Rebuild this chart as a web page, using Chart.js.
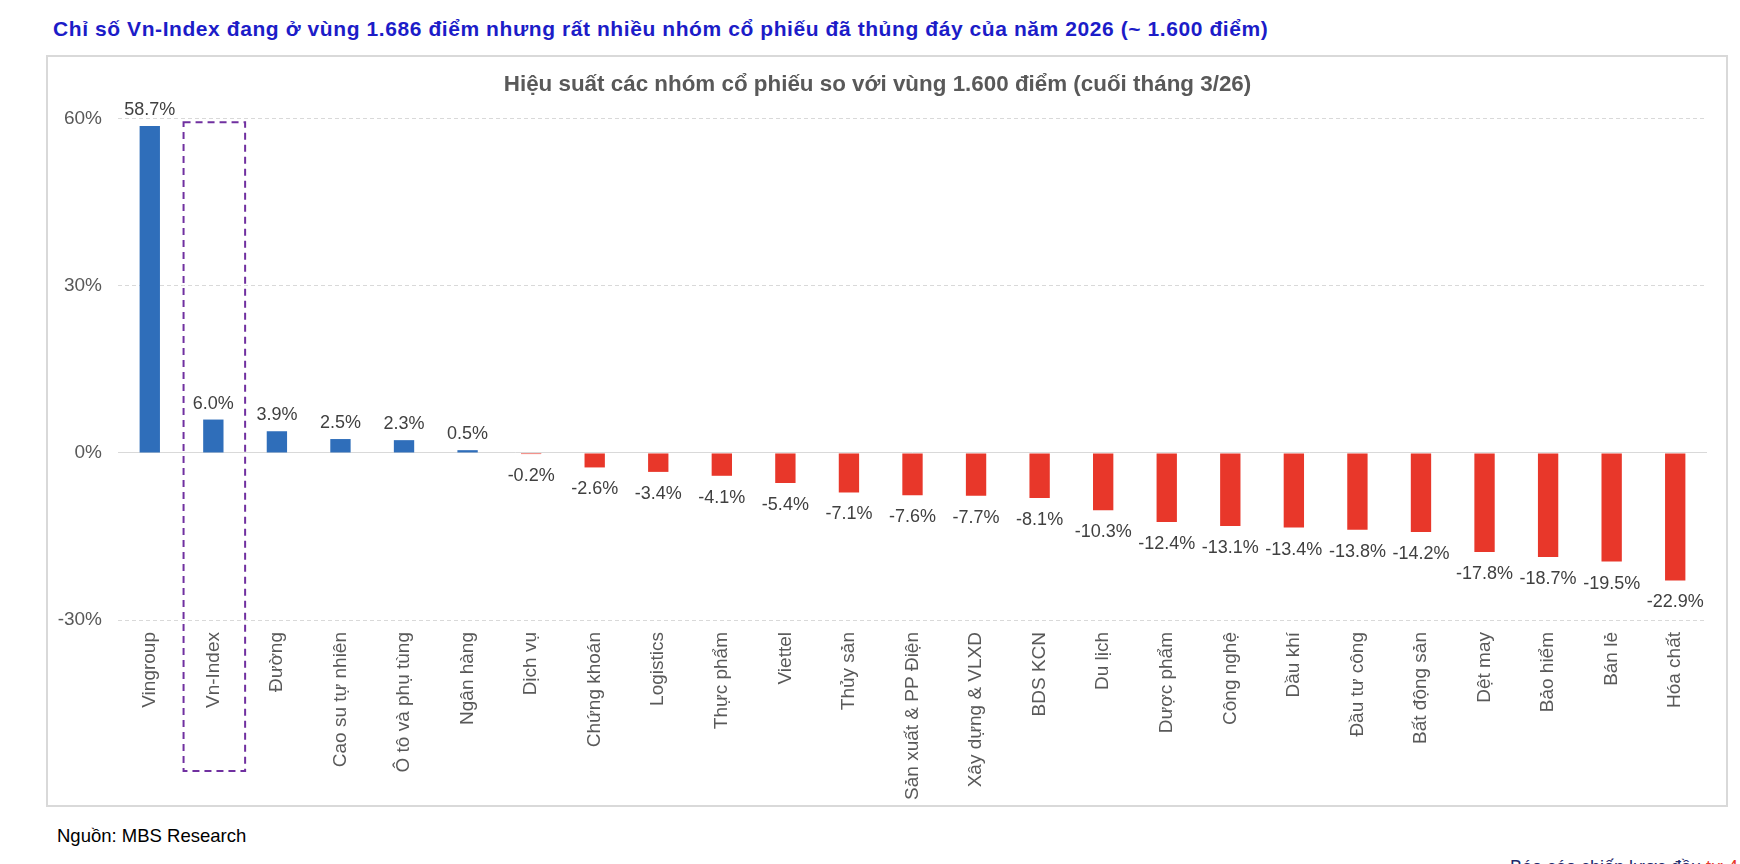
<!DOCTYPE html>
<html lang="vi">
<head>
<meta charset="utf-8">
<title>Hiệu suất các nhóm cổ phiếu</title>
<script src="https://cdn.jsdelivr.net/npm/chart.js@4.4.1/dist/chart.umd.min.js"></script>
<style>
  html, body { margin: 0; padding: 0; background: #fff; }
  body { width: 1740px; height: 864px; position: relative; overflow: hidden;
         font-family: "Liberation Sans", Arial, sans-serif; }
  .headline { position: absolute; left: 53px; top: 18px; font-size: 21px; line-height: 21px;
              letter-spacing: 0.58px; font-weight: bold; color: #1c1cc8; white-space: nowrap; }
  .frame { position: absolute; left: 46px; top: 55px; width: 1682px; height: 752px;
           box-sizing: border-box; border: 2px solid #d9d9d9; }
  .holder { position: absolute; left: 48px; top: 57px; width: 1678px; height: 748px; }
  .source { position: absolute; left: 57px; top: 827px; font-size: 18.5px; line-height: 18px; color: #000; }
  .footer { position: absolute; left: 1510px; top: 858px; font-size: 18px; line-height: 18px;
            color: #1f2a6b; white-space: nowrap; }
  .footer span { color: #e8372a; }
</style>
</head>
<body>
<div class="headline">Chỉ số Vn-Index đang ở vùng 1.686 điểm nhưng rất nhiều nhóm cổ phiếu đã thủng đáy của năm 2026 (~ 1.600 điểm)</div>
<div class="frame"></div>
<div class="holder"><canvas id="c"></canvas></div>
<div class="source">Nguồn: MBS Research</div>
<div class="footer">Báo cáo chiến lược đầu <span>tư 4/2026</span></div>
<script>
'use strict';
// values (% vs the 1.600-point zone, end of March 2026)
var categories = ['Vingroup', 'Vn-Index', 'Đường', 'Cao su tự nhiên', 'Ô tô và phụ tùng', 'Ngân hàng',
  'Dịch vụ', 'Chứng khoán', 'Logistics', 'Thực phẩm', 'Viettel', 'Thủy sản', 'Sản xuất & PP Điện',
  'Xây dựng & VLXD', 'BDS KCN', 'Du lịch', 'Dược phẩm', 'Công nghệ', 'Dầu khí', 'Đầu tư công',
  'Bất động sản', 'Dệt may', 'Bảo hiểm', 'Bán lẻ', 'Hóa chất'];
var performance = [58.7, 6.0, 3.9, 2.5, 2.3, 0.5, -0.2, -2.6, -3.4, -4.1, -5.4, -7.1, -7.6,
  -7.7, -8.1, -10.3, -12.4, -13.1, -13.4, -13.8, -14.2, -17.8, -18.7, -19.5, -22.9];
var yTicks = [-30, 0, 30, 60];
var highlighted = 'Vn-Index';

var BLUE = '#2f6eba', RED = '#e8372a', INK = '#595959', LABEL = '#404040';
var FONT = '"Liberation Sans", Arial, sans-serif';

// value labels above / below each bar
var valueLabels = {
  id: 'valueLabels',
  afterDatasetsDraw: function (chart) {
    var ctx = chart.ctx;
    var meta = chart.getDatasetMeta(0);
    ctx.save();
    ctx.font = '18px ' + FONT;
    ctx.fillStyle = LABEL;
    ctx.textAlign = 'center';
    ctx.textBaseline = 'alphabetic';
    meta.data.forEach(function (bar, i) {
      var v = performance[i];
      var txt = v.toFixed(1) + '%';
      if (v >= 0) ctx.fillText(txt, bar.x, bar.y - 11);
      else ctx.fillText(txt, bar.x, bar.y + 27);
    });
    ctx.restore();
  }
};

// dashed purple box round the highlighted category
var highlightBox = {
  id: 'highlightBox',
  afterDraw: function (chart) {
    var x = chart.scales.x, y = chart.scales.y;
    var i = categories.indexOf(highlighted);
    if (i < 0) return;
    var half = (x.getPixelForValue(1) - x.getPixelForValue(0)) / 2;
    var cx = x.getPixelForValue(i);
    var top = y.getPixelForValue(59.4);
    var bottom = chart.chartArea.bottom + 151;
    var ctx = chart.ctx;
    ctx.save();
    ctx.strokeStyle = '#7030a0';
    ctx.lineWidth = 2;
    ctx.setLineDash([7, 5]);
    ctx.strokeRect(cx - half + 2, top, half * 2 - 2, bottom - top);
    ctx.restore();
  }
};

new Chart(document.getElementById('c'), {
  type: 'bar',
  data: {
    labels: categories,
    datasets: [{
      data: performance,
      backgroundColor: performance.map(function (v) { return v >= 0 ? BLUE : RED; }),
      categoryPercentage: 1,
      barPercentage: 0.32
    }]
  },
  options: {
    responsive: true, maintainAspectRatio: false, animation: false,
    devicePixelRatio: 1,
    layout: { padding: { left: 0, right: 19, top: 0, bottom: 0 } },
    plugins: {
      legend: { display: false },
      tooltip: { enabled: false },
      title: {
        display: true,
        text: 'Hiệu suất các nhóm cổ phiếu so với vùng 1.600 điểm (cuối tháng 3/26)',
        color: INK,
        font: { family: FONT, size: 22.4, weight: 'bold', lineHeight: 1.2 },
        padding: { top: 14, bottom: 21 }
      }
    },
    scales: {
      x: {
        grid: { display: false, drawTicks: false },
        border: { display: false },
        ticks: {
          color: INK, font: { family: FONT, size: 19 },
          minRotation: 90, maxRotation: 90, autoSkip: false, padding: 12
        },
        afterFit: function (s) { s.height = 185; }
      },
      y: {
        min: -30, max: 60,
        afterBuildTicks: function (s) { s.ticks = yTicks.map(function (v) { return { value: v }; }); },
        grid: {
          drawTicks: false, lineWidth: 1, color: '#d9d9d9'
        },
        border: {
          display: false,
          dash: function (c) { return c.tick && c.tick.value === 0 ? [] : [4, 3]; }
        },
        ticks: {
          color: INK, font: { family: FONT, size: 19 }, padding: 16,
          callback: function (v) { return v + '%'; }
        },
        afterFit: function (s) { s.width = 70; }
      }
    }
  },
  plugins: [valueLabels, highlightBox]
});
</script>
</body>
</html>
